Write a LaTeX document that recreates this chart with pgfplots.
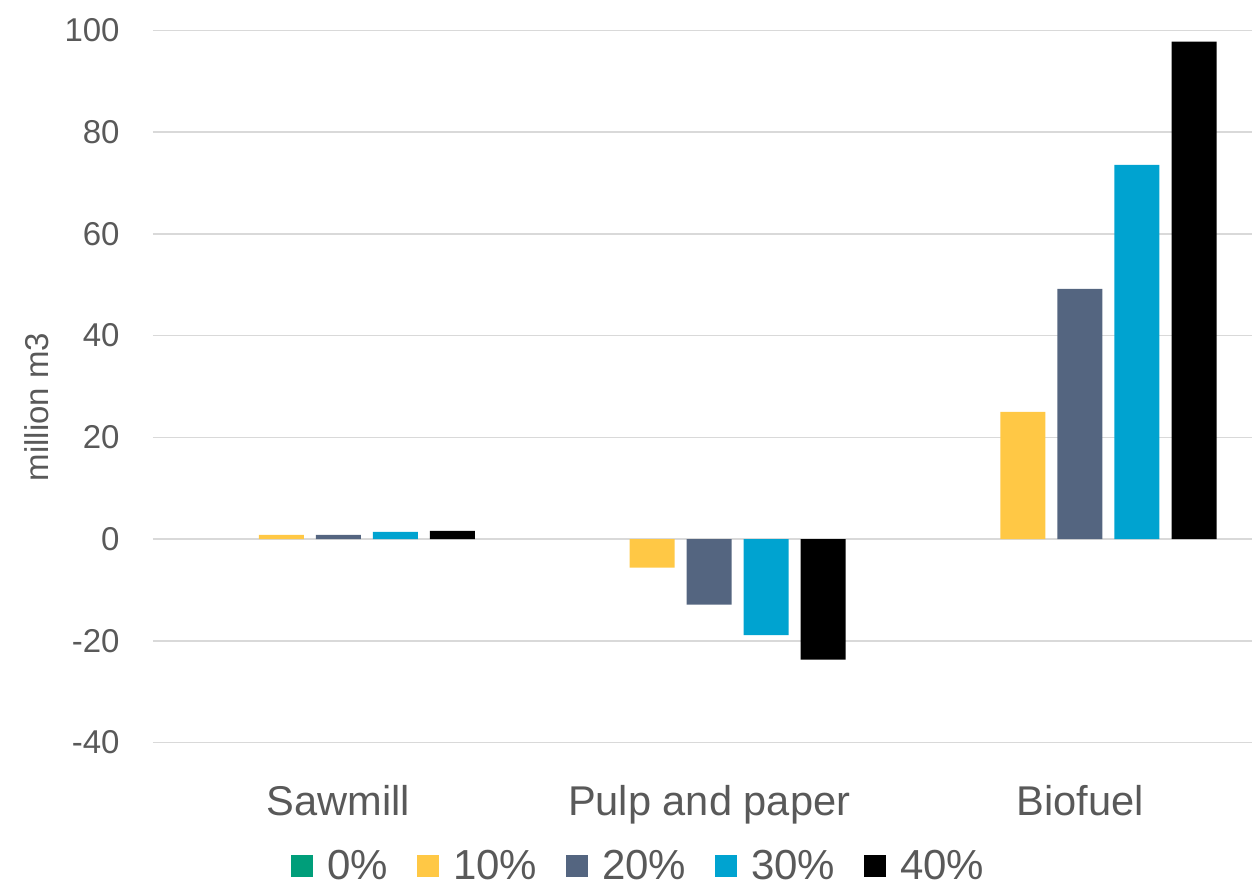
\documentclass[border=0pt]{standalone}
\usepackage{pgfplots}
\pgfplotsset{compat=1.18}
\usepackage{fontspec}
\setmainfont{Liberation Sans}

\definecolor{txtgray}{RGB}{89,89,89}
\definecolor{gridgray}{RGB}{217,217,217}
\definecolor{cZero}{RGB}{0,158,122}
\definecolor{cTen}{RGB}{255,200,69}
\definecolor{cTwenty}{RGB}{84,101,128}
\definecolor{cThirty}{RGB}{0,163,208}
\definecolor{cForty}{RGB}{0,0,0}

\begin{document}
\begin{tikzpicture}
\begin{axis}[
    name=ax,
    scale only axis,
    width=549.5pt,
    height=356pt,
    xmin=-0.5, xmax=2.464,
    ymin=-40, ymax=100,
    ytick={-40,-20,0,20,40,60,80,100},
    xtick={0,1,2},
    xticklabels={Sawmill, Pulp and paper, Biofuel},
    axis line style={draw=none},
    tick style={draw=none},
    ymajorgrids,
    grid style={gridgray, line width=0.75pt},
    /pgf/number format/assume math mode=true,
    yticklabel style={font=\fontsize{16.5}{19}\selectfont, text=txtgray, inner sep=0pt, anchor=east, xshift=-16.5pt},
    xticklabel style={font=\fontsize{20.8}{24}\selectfont, text=txtgray, inner sep=0pt, anchor=base, yshift=-32.3pt},
    ylabel={million m3},
    ylabel style={font=\fontsize{16.5}{19}\selectfont, text=txtgray, at={(axis description cs:0,0.471)}, anchor=center, yshift=58pt},
    ybar,
    bar width=0.1214,
    legend columns=5,
    legend style={draw=none, fill=none, at={(0.443,0)}, anchor=center, yshift=-62pt,
        font=\fontsize{21}{24}\selectfont, text=txtgray,
        /tikz/every even column/.append style={column sep=12.5pt},
        /tikz/every odd column/.append style={column sep=5pt}},
    legend image code/.code={\fill[#1] (0pt,-5.5pt) rectangle (11pt,5.5pt);},
]
% 0% scenario: all zero, only its legend square shows
\addplot[fill=cZero, draw=none, fill opacity=0, bar shift=-0.3076,
    legend image code/.code={\fill[cZero, fill opacity=1] (0pt,-5.5pt) rectangle (11pt,5.5pt);}]
    coordinates {(0,0) (1,0) (2,0)};
\addplot[fill=cTen, draw=none, bar shift=-0.1538] coordinates {(0,0.8) (1,-5.6) (2,25.0)};
\addplot[fill=cTwenty, draw=none, bar shift=0] coordinates {(0,0.8) (1,-12.9) (2,49.2)};
\addplot[fill=cThirty, draw=none, bar shift=0.1538] coordinates {(0,1.4) (1,-18.9) (2,73.6)};
\addplot[fill=cForty, draw=none, bar shift=0.3076] coordinates {(0,1.6) (1,-23.7) (2,97.8)};
\legend{0\%, 10\%, 20\%, 30\%, 40\%}
\end{axis}
\pgfresetboundingbox
\path[use as bounding box] ([xshift=-76.5pt,yshift=-71.8pt]ax.south west) rectangle ([xshift=0.5pt,yshift=15.25pt]ax.north east);
\end{tikzpicture}
\end{document}
